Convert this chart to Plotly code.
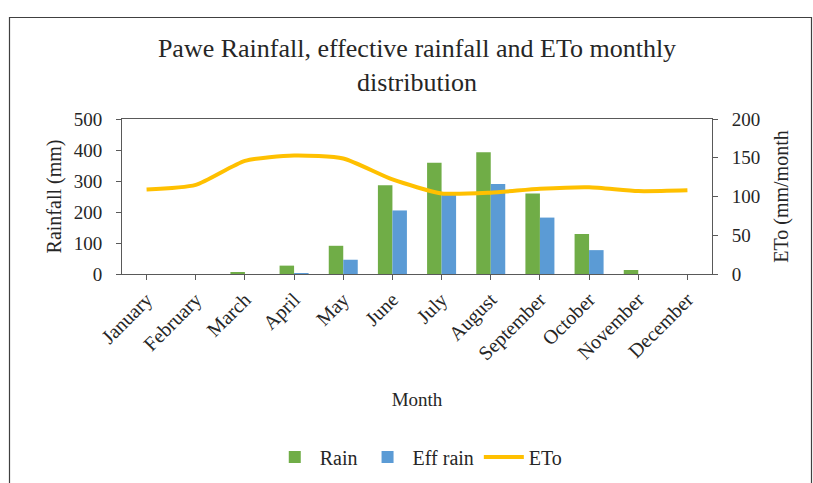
import plotly.graph_objects as go

months = ["January", "February", "March", "April", "May", "June", "July",
          "August", "September", "October", "November", "December"]
rain = [0, 0, 6, 27, 91, 286, 359, 393, 260, 129, 13, 0]
eff_rain = [0, 0, 0, 3, 46, 205, 258, 290, 182, 77, 0, 0]
eto = [109, 115, 146, 153, 149, 122, 104, 105, 110, 112, 107, 108]

FONT = "Liberation Serif"
AX = "#595959"

fig = go.Figure()
fig.add_trace(go.Bar(x=months, y=rain, name="Rain", marker_color="#70AD47",
                     marker_line_width=0))
fig.add_trace(go.Bar(x=months, y=eff_rain, name="Eff rain", marker_color="#5B9BD5",
                     marker_line_width=0))
fig.add_trace(go.Scatter(x=months, y=eto, name="ETo", yaxis="y2", mode="lines",
                         line=dict(color="#FFC000", width=4, shape="spline", smoothing=0.6)))

L, R, T, B = 122, 101, 119, 209
W, H = 813, 483
pw, ph = W - L - R, H - T - B

def px(x):
    return (x - L) / pw

def py(y):
    return (H - B - y) / ph

fig.update_layout(
    width=W, height=H,
    margin=dict(l=L, r=R, t=T, b=B, pad=0, autoexpand=False),
    paper_bgcolor="white", plot_bgcolor="white",
    font=dict(family=FONT, size=19, color="#262626"),
    title=dict(text="Pawe Rainfall, effective rainfall and ETo monthly<br>distribution",
               x=0.5, xref="paper", xanchor="center", y=1 - 57 / H, yanchor="top",
               font=dict(size=26, family=FONT, color="#262626")),
    barmode="group", bargap=0.41, bargroupgap=0,
    showlegend=True,
    legend=dict(orientation="h", x=0.503, xanchor="center", xref="paper",
                y=py(457), yanchor="middle", font=dict(size=20, family=FONT),
                itemwidth=40, traceorder="normal"),
    xaxis=dict(title=dict(text="Month", font=dict(size=19), standoff=28),
               tickangle=-45, showline=True, linecolor=AX, linewidth=1,
               ticks="outside", ticklen=5, tickcolor=AX, mirror=True,
               showgrid=False, tickfont=dict(size=20)),
    yaxis=dict(title=dict(text="Rainfall (mm)", font=dict(size=20), standoff=6),
               range=[0, 500], dtick=100, showline=True, linecolor=AX, linewidth=1,
               ticks="outside", ticklen=5, tickcolor=AX, showgrid=False,
               zeroline=False, tickfont=dict(size=19), ticklabelstandoff=10),
    yaxis2=dict(title=dict(text="ETo (mm/month", font=dict(size=20), standoff=14),
                range=[0, 200], dtick=50, overlaying="y", side="right",
                showline=True, linecolor=AX, linewidth=1, ticks="outside",
                ticklen=5, tickcolor=AX, showgrid=False, zeroline=False,
                tickfont=dict(size=19), ticklabelstandoff=10),
    shapes=[dict(type="rect", xref="paper", yref="paper",
                 x0=px(9.5), x1=px(811.5), y0=py(495), y1=py(17.5),
                 line=dict(color="#404040", width=1.2), layer="below")],
)

fig.write_html("out.html")
